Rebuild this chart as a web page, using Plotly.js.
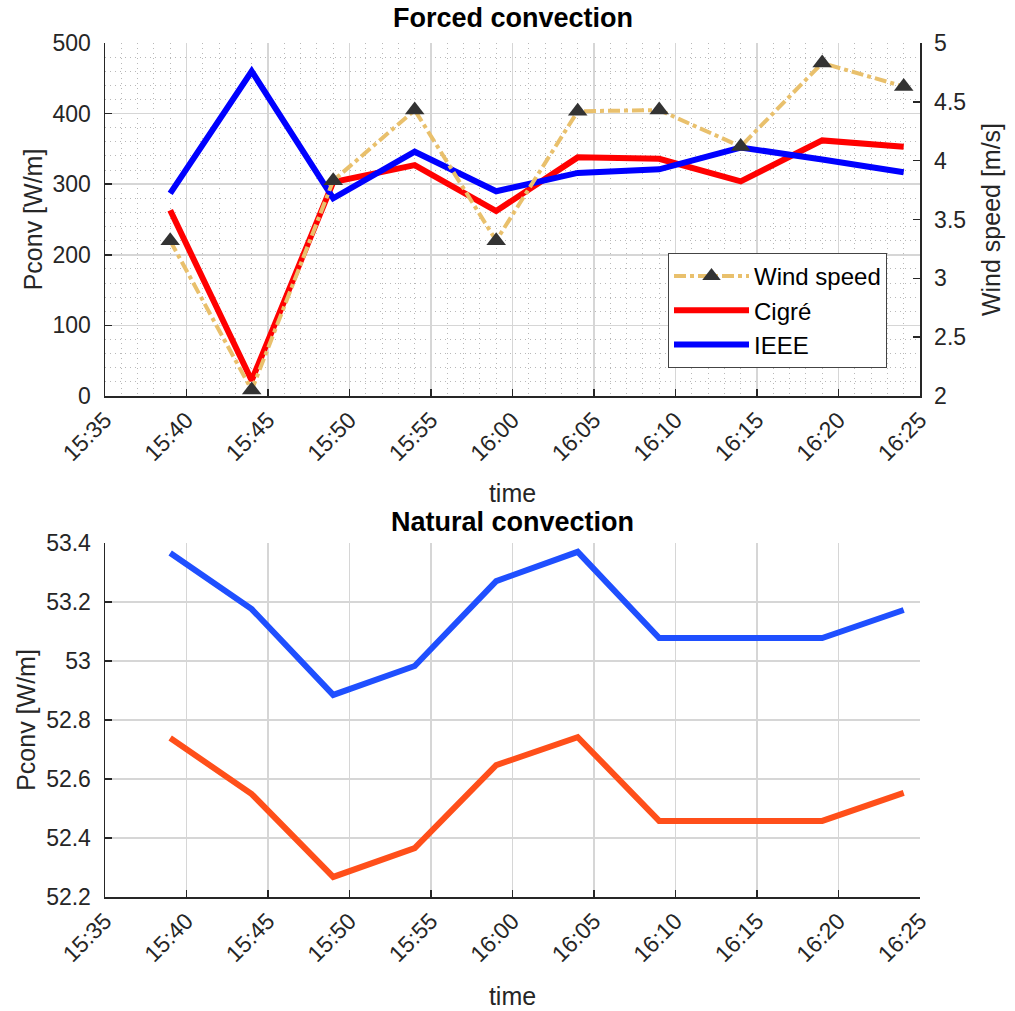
<!DOCTYPE html>
<html><head><meta charset="utf-8">
<script src="https://cdn.plot.ly/plotly-3.0.1.min.js"></script>
<style>html,body{margin:0;padding:0;background:#fff}#chart{width:1015px;height:1011px}</style>
</head><body><div id="chart"></div>
<script>
const times = ["15:39","15:44","15:49","15:54","15:59","16:04","16:09","16:14","16:19","16:24"];
const windSpeed = [3.32, 2.05, 3.83, 4.43, 3.32, 4.42, 4.43, 4.12, 4.83, 4.63];
const forcedCigre = [263, 22, 303, 327, 262, 338, 336, 304, 362, 353];
const forcedIEEE = [287, 460, 280, 346, 290, 316, 321, 352, 335, 317];
const naturalCigre = [52.739, 52.549, 52.268, 52.366, 52.647, 52.742, 52.458, 52.458, 52.458, 52.553];
const naturalIEEE = [53.366, 53.176, 52.885, 52.983, 53.271, 53.370, 53.078, 53.078, 53.078, 53.173];

const day = "2000-01-01 ";
const xs = times.map(t => day + t + ":00");
const FONT = "Liberation Sans, Arial, Helvetica, sans-serif";
const txt = "#262626";
const TICK = 23, LABEL = 25;

const traces = [
  {x: xs, y: windSpeed, xaxis: "x", yaxis: "y2", name: "Wind speed", mode: "lines+markers",
   line: {color: "#E9C06C", width: 4, dash: "dashdot"},
   marker: {symbol: "triangle-up", size: 17, color: "#333333"}},
  {x: xs, y: forcedCigre, xaxis: "x", yaxis: "y", name: "Cigré", mode: "lines",
   line: {color: "#FF0000", width: 6}},
  {x: xs, y: forcedIEEE, xaxis: "x", yaxis: "y", name: "IEEE", mode: "lines",
   line: {color: "#0000FF", width: 6}},
  {x: xs, y: naturalIEEE, xaxis: "x2", yaxis: "y3", name: "IEEE", mode: "lines", showlegend: false,
   line: {color: "#1F4FFF", width: 6}},
  {x: xs, y: naturalCigre, xaxis: "x2", yaxis: "y3", name: "Cigré", mode: "lines", showlegend: false,
   line: {color: "#FF4F1A", width: 6}}
];

const xBase = {
  type: "date", range: [day + "15:35:00", day + "16:25:00"],
  tick0: day + "15:35:00", dtick: 300000, tickformat: "%H:%M", tickangle: -45,
  ticks: "inside", ticklen: 7, tickwidth: 1.5, tickcolor: txt,
  showline: true, linecolor: txt, linewidth: 1.5,
  showgrid: true, gridcolor: "#D6D6D6", gridwidth: 1.5, zeroline: false,
  tickfont: {family: FONT, size: TICK, color: txt},
  domain: [105/1015, 920/1015]
};
const yBase = {
  ticks: "inside", ticklen: 7, tickwidth: 1.5, tickcolor: txt,
  showline: true, linecolor: txt, linewidth: 1.5,
  showgrid: true, gridcolor: "#D6D6D6", gridwidth: 1.5, zeroline: false,
  tickfont: {family: FONT, size: TICK, color: txt}, ticklabelstandoff: 8
};
const minorGrid = {showgrid: true, griddash: "1px,4px", gridcolor: "#B8B8B8", gridwidth: 1, ticks: ""};

const layout = {
  width: 1015, height: 1011,
  margin: {l: 0, r: 0, t: 0, b: 0},
  paper_bgcolor: "#fff", plot_bgcolor: "#fff",
  font: {family: FONT, color: txt},
  showlegend: true,
  legend: {x: 668/1015, y: 1 - 253/1011, xanchor: "left", yanchor: "top",
    bgcolor: "#fff", bordercolor: "#444", borderwidth: 1,
    font: {family: FONT, size: 24, color: "#000"}, itemwidth: 75, tracegroupgap: 0},
  xaxis: Object.assign({}, xBase, {anchor: "y", minor: Object.assign({dtick: 60000}, minorGrid),
    title: {text: "time", font: {family: FONT, size: LABEL, color: txt}, standoff: 19}}),
  xaxis2: Object.assign({}, xBase, {anchor: "y3",
    title: {text: "time", font: {family: FONT, size: LABEL, color: txt}, standoff: 21}}),
  yaxis: Object.assign({}, yBase, {domain: [1 - 396/1011, 1 - 43/1011], range: [0, 500], dtick: 100,
    anchor: "x", minor: Object.assign({dtick: 20}, minorGrid),
    title: {text: "Pconv [W/m]", font: {family: FONT, size: LABEL, color: txt}, standoff: 3}}),
  yaxis2: Object.assign({}, yBase, {overlaying: "y", side: "right", anchor: "x", range: [2, 5], dtick: 0.5,
    showgrid: false,
    title: {text: "Wind speed [m/s]", font: {family: FONT, size: LABEL, color: txt}, standoff: 17}}),
  yaxis3: Object.assign({}, yBase, {domain: [1 - 897/1011, 1 - 543/1011], range: [52.2, 53.4], dtick: 0.2,
    anchor: "x2",
    title: {text: "Pconv [W/m]", font: {family: FONT, size: LABEL, color: txt}, standoff: 3}}),
  annotations: [
    {text: "<b>Forced convection</b>", x: 512.5/1015, y: 1 - 18/1011, xref: "paper", yref: "paper",
     xanchor: "center", yanchor: "middle", showarrow: false, font: {family: FONT, size: 27, color: "#000"}},
    {text: "<b>Natural convection</b>", x: 512.5/1015, y: 1 - 522/1011, xref: "paper", yref: "paper",
     xanchor: "center", yanchor: "middle", showarrow: false, font: {family: FONT, size: 27, color: "#000"}}
  ]
};

Plotly.newPlot("chart", traces, layout, {displayModeBar: false, staticPlot: true});
</script>
</body></html>
